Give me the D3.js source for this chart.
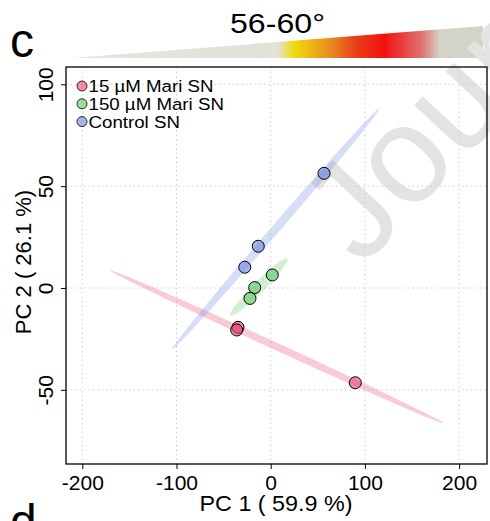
<!DOCTYPE html>
<html>
<head>
<meta charset="utf-8">
<script src="https://cdn.jsdelivr.net/npm/d3@7"></script>
<style>
  body { margin: 0; background: #fff; }
  svg { display: block; font-family: "Liberation Sans", Arial, sans-serif; }
</style>
</head>
<body>
<div id="chart"></div>
<script>
// PCA scores
let groups = ['15 µM Mari SN', '150 µM Mari SN', 'Control SN']
let colors = ['#e8436e', '#5cc463', '#6a85de']
let pc1 = [
  [-34.7, -36.1, 89.8],
  [1.7, -17, -22],
  [56.6, -13.2, -27.6]
]
let pc2 = [
  [-19.3, -20.6, -46.5],
  [6.4, 0.2, -5.1],
  [56.3, 20.5, 10.2]
]
let xTicks = [-200, -100, 0, 100, 200]
let yTicks = [-50, 0, 50, 100]
// temperature wedge colours (offset, colour)
let wedgeStops = [
  [0, '#e4e4de'], [0.5, '#e2e2d8'], [0.54, '#f0dc0a'], [0.63, '#e88a20'],
  [0.69, '#e84018'], [0.76, '#f51010'], [0.85, '#e07070'], [0.895, '#d3d3c9'], [1, '#d3d3c9']
]

let svg = d3.select('#chart').append('svg')
  .attr('width', 490)
  .attr('height', 521)

let x = d3.scaleLinear().domain([-217.3, 229.6]).range([66, 487])
let y = d3.scaleLinear().domain([108.5, -86.4]).range([67, 464])

// panel letters and title wedge
svg.append('text').attr('x', 10).attr('y', 57).style('font-size', '48px').text('c')
svg.append('text').attr('x', 10).attr('y', 538).style('font-size', '48px').text('d')
svg.append('text').attr('x', 230).attr('y', 33)
  .attr('textLength', 95).attr('lengthAdjust', 'spacingAndGlyphs')
  .style('font-size', '28px').text('56-60°')

let grad = svg.append('defs').append('linearGradient').attr('id', 'wedge')
  .attr('x1', '0%').attr('x2', '100%')
wedgeStops.forEach(s => {
  grad.append('stop').attr('offset', s[0]).attr('stop-color', s[1])
})
svg.append('path').attr('d', 'M72,58 L483,26 L483,58 Z').attr('fill', 'url(#wedge)')

// watermark
svg.append('text')
  .attr('transform', 'translate(362,268) rotate(-47)')
  .attr('fill', '#e3e3e3')
  .style('font-size', '138px')
  .text('Journal')

// grid
let grid = svg.append('g').attr('stroke', '#cfcfcf').attr('stroke-dasharray', '1.5,3')
grid.selectAll('.gx').data(xTicks).enter().append('line')
  .attr('x1', d => x(d)).attr('x2', d => x(d)).attr('y1', 67).attr('y2', 464)
grid.selectAll('.gy').data(yTicks).enter().append('line')
  .attr('y1', d => y(d)).attr('y2', d => y(d)).attr('x1', 66).attr('x2', 487)

// 95% normal ellipses from each group's covariance
let ellipse = (xs, ys) => {
  let n = xs.length
  let mx = d3.mean(xs), my = d3.mean(ys)
  let sxx = d3.sum(xs, v => (v - mx) * (v - mx)) / (n - 1)
  let syy = d3.sum(ys, v => (v - my) * (v - my)) / (n - 1)
  let sxy = d3.sum(xs.map((v, i) => (v - mx) * (ys[i] - my))) / (n - 1)
  let tr = sxx + syy, det = sxx * syy - sxy * sxy
  let l1 = tr / 2 + Math.sqrt(tr * tr / 4 - det)
  let l2 = Math.max(tr / 2 - Math.sqrt(tr * tr / 4 - det), 0)
  let ang = Math.atan2(l1 - sxx, sxy)
  let c = Math.sqrt(5.991)
  let pts = d3.range(0, 361, 3).map(t => {
    let a = t * Math.PI / 180
    let u = c * Math.sqrt(l1) * Math.cos(a), v = c * Math.sqrt(l2) * Math.sin(a)
    return [mx + u * Math.cos(ang) - v * Math.sin(ang), my + u * Math.sin(ang) + v * Math.cos(ang)]
  })
  return pts
}

let line = d3.line().x(d => x(d[0])).y(d => y(d[1]))
groups.forEach((g, i) => {
  svg.append('path')
    .attr('d', line(ellipse(pc1[i], pc2[i])) + 'Z')
    .attr('fill', colors[i])
    .attr('fill-opacity', 0.28)
})

// points
groups.forEach((g, i) => {
  svg.append('g').selectAll('circle').data(pc1[i]).enter().append('circle')
    .attr('cx', d => x(d))
    .attr('cy', (d, j) => y(pc2[i][j]))
    .attr('r', 6)
    .attr('fill', colors[i])
    .attr('fill-opacity', 0.6)
    .attr('stroke', '#000')
    .attr('stroke-width', 1)
})

// box and axes
svg.append('rect').attr('x', 66).attr('y', 67).attr('width', 421).attr('height', 397)
  .attr('fill', 'none').attr('stroke', '#000').attr('stroke-width', 1.3)

let xAxis = svg.append('g').attr('transform', 'translate(0,464)')
  .call(d3.axisBottom(x).tickValues(xTicks).tickSize(5))
xAxis.select('.domain').remove()
xAxis.selectAll('text')
  .attr('y', 10.6).attr('dy', '0.71em')
  .style('font-size', '21px').attr('fill', '#000')
  .text(d => d < 0 ? '-' + Math.abs(d) : d)

let yAxis = svg.append('g').attr('transform', 'translate(66,0)')
  .call(d3.axisLeft(y).tickValues(yTicks).tickSize(5))
yAxis.select('.domain').remove()
yAxis.selectAll('text')
  .attr('transform', 'rotate(-90)')
  .attr('x', 0).attr('y', -13.5).attr('dy', 0)
  .attr('text-anchor', 'middle')
  .style('font-size', '21px').attr('fill', '#000')
  .text(d => d < 0 ? '-' + Math.abs(d) : d)

svg.append('text').attr('x', 276 - 76.5).attr('y', 511)
  .attr('textLength', 153).attr('lengthAdjust', 'spacingAndGlyphs')
  .style('font-size', '22px').text('PC 1 ( 59.9 %)')
svg.append('text').attr('transform', 'translate(31,262) rotate(-90)').attr('text-anchor', 'middle')
  .style('font-size', '22px').text('PC 2 ( 26.1 %)')

// legend
let legend = svg.append('g')
groups.forEach((g, i) => {
  legend.append('circle').attr('cx', 82).attr('cy', 86 + i * 17.8).attr('r', 5)
    .attr('fill', colors[i]).attr('fill-opacity', 0.6)
    .attr('stroke', '#000').attr('stroke-width', 0.8)
  legend.append('text')
    .attr('transform', `translate(88.5,${92 + i * 17.8}) scale(1.1,1)`)
    .style('font-size', '17px').text(g)
})
</script>
</body>
</html>
